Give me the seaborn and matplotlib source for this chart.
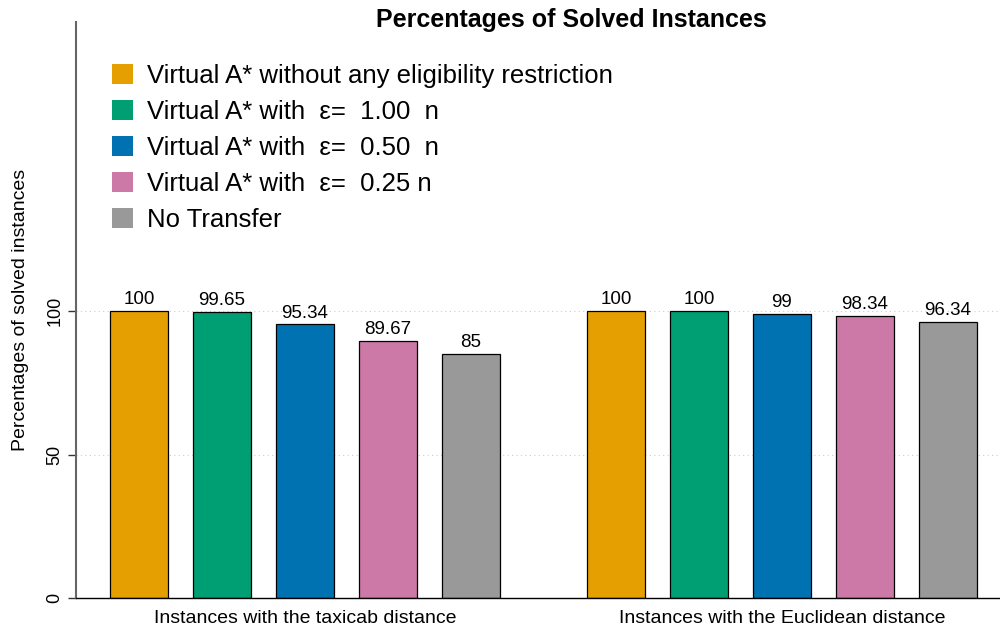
import pandas as pd
import matplotlib
matplotlib.use("Agg")
import matplotlib.pyplot as plt
import seaborn as sns

# data
groups = ["Instances with the taxicab distance", "Instances with the Euclidean distance"]
methods = [
    "Virtual A* without any eligibility restriction",
    "Virtual A* with  \u03b5=  1.00  n",
    "Virtual A* with  \u03b5=  0.50  n",
    "Virtual A* with  \u03b5=  0.25 n",
    "No Transfer",
]
taxicab = [100, 99.65, 95.34, 89.67, 85]
euclidean = [100, 100, 99, 98.34, 96.34]
colors = ["#E69F00", "#009E73", "#0072B2", "#CC79A7", "#999999"]

rows = []
for m, v in zip(methods, taxicab):
    rows.append({"group": groups[0], "method": m, "pct": v})
for m, v in zip(methods, euclidean):
    rows.append({"group": groups[1], "method": m, "pct": v})
df = pd.DataFrame(rows)

sns.set_style("white")
plt.rcParams["font.family"] = ["Liberation Sans", "DejaVu Sans"]
plt.rcParams["text.color"] = "black"
plt.rcParams["axes.labelcolor"] = "black"
plt.rcParams["xtick.color"] = "black"
plt.rcParams["ytick.color"] = "black"

fig = plt.figure(figsize=(10, 6.3), dpi=100)
ax = fig.add_axes([0.076, 0.0508, 0.924, 0.914])

sns.barplot(data=df, x="group", y="pct", hue="method", hue_order=methods,
            order=groups, palette=colors, width=0.87, gap=0.29,
            edgecolor="black", linewidth=0.9, saturation=1, ax=ax)

for c in ax.containers:
    ax.bar_label(c, fmt="%g", padding=2, fontsize=13.5)

ax.set_xlim(-0.48, 1.457)
ax.set_ylim(0, 200.7)
ax.set_yticks([0, 50, 100])
ax.set_yticklabels(["0", "50", "100"], rotation=90, va="center", fontsize=13)
ax.tick_params(axis="y", direction="out", length=6, width=1, color="#333333", pad=3, left=True)
ax.tick_params(axis="x", length=0, labelsize=14, pad=9)
ax.set_xlabel("")
ax.set_ylabel("Percentages of solved instances", fontsize=14, labelpad=12.5)
ax.yaxis.grid(True, linestyle=(0, (1, 3)), color="#cccccc", linewidth=0.8)
ax.set_axisbelow(True)

for s in ["top", "right"]:
    ax.spines[s].set_visible(False)
ax.spines["left"].set_color("#666666")
ax.spines["left"].set_linewidth(1.5)
ax.spines["bottom"].set_color("black")
ax.spines["bottom"].set_linewidth(1)

fig.text(0.571, 1 - 20 / 630, "Percentages of Solved Instances", fontsize=18,
         fontweight="bold", ha="center", va="center")

handles, labels = ax.get_legend_handles_labels()
ax.legend(handles, labels, loc="upper left", bbox_to_anchor=(0.102, 0.915),
          bbox_transform=fig.transFigure, frameon=False, fontsize=18.5,
          handlelength=0.8, handleheight=0.8, handletextpad=0.55,
          labelspacing=0.465, borderaxespad=0)
for h in ax.get_legend().legend_handles:
    h.set_edgecolor("none")

fig.savefig("out.png", dpi=100)
